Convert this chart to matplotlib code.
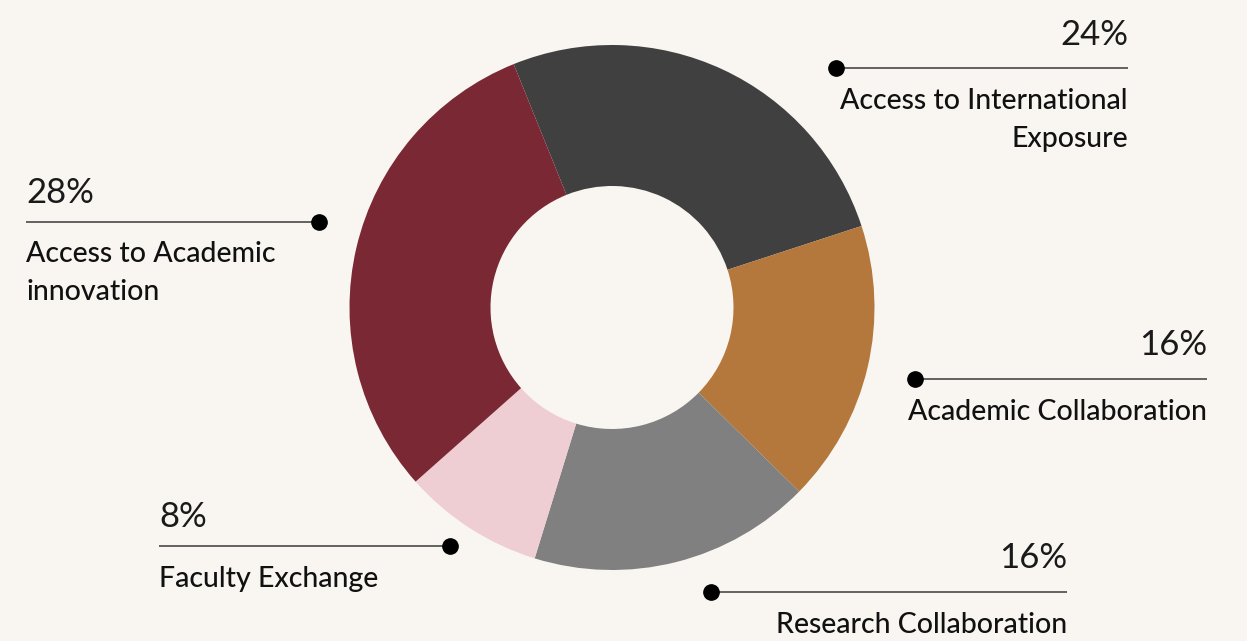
import matplotlib
matplotlib.use("Agg")
import matplotlib.pyplot as plt

# ---- data ----
categories = ["Access to International\nExposure", "Academic Collaboration",
              "Research Collaboration", "Faculty Exchange",
              "Access to Academic\ninnovation"]
values = [24, 16, 16, 8, 28]
pct_labels = ["24%", "16%", "16%", "8%", "28%"]
colors = ["#404040", "#B4783C", "#808080", "#EECDD3", "#7B2835"]

# ---- layout (image pixel coords) ----
W, H = 1247, 641
BG = "#F9F6F2"
# (dot_x, line_y, line_end_x, side, pct_baseline, label_baseline)
layout = [
    (836, 68, 1128, "right", 45, 109),
    (915, 379, 1207, "right", 355, 420),
    (711, 592, 1067, "right", 568, 633),
    (450, 546, 159, "left", 527, 587),
    (319, 222, 26, "left", 203, 262),
]

fig = plt.figure(figsize=(W / 100, H / 100), dpi=100, facecolor=BG)
ax = fig.add_axes([0, 0, 1, 1])
ax.set_facecolor(BG)

def Y(y):
    return H - y

cx, cy, R, r_in = 612, 307.5, 262.5, 121.5
ax.pie(values, colors=colors, startangle=112, counterclock=False,
       center=(cx, Y(cy)), radius=R, frame=True,
       wedgeprops=dict(width=R - r_in, edgecolor="none", linewidth=0))
ax.set_xlim(0, W)
ax.set_ylim(0, H)
ax.set_aspect("equal")
ax.axis("off")

FONT = "Lato"
for (dx, ly, ex, side, pb, lb), cat, pl in zip(layout, categories, pct_labels):
    ax.plot([dx, ex], [Y(ly), Y(ly)], color="#3a3a3a", lw=1.1,
            solid_capstyle="butt", zorder=3)
    ax.plot([dx], [Y(ly)], "o", color="#000000", markersize=11, zorder=4)
    ha = "right" if side == "right" else "left"
    ax.text(ex, Y(pb), pl, ha=ha, va="baseline", fontsize=25,
            family=FONT, fontweight="normal", color="#1a1a1a")
    lines = cat.split("\n")
    for i, t in enumerate(lines):
        ax.text(ex, Y(lb + i * 38), t, ha=ha, va="baseline", fontsize=20.5,
                family=FONT, fontweight="medium", color="#111111")

fig.savefig("out.png", dpi=100, facecolor=BG)
